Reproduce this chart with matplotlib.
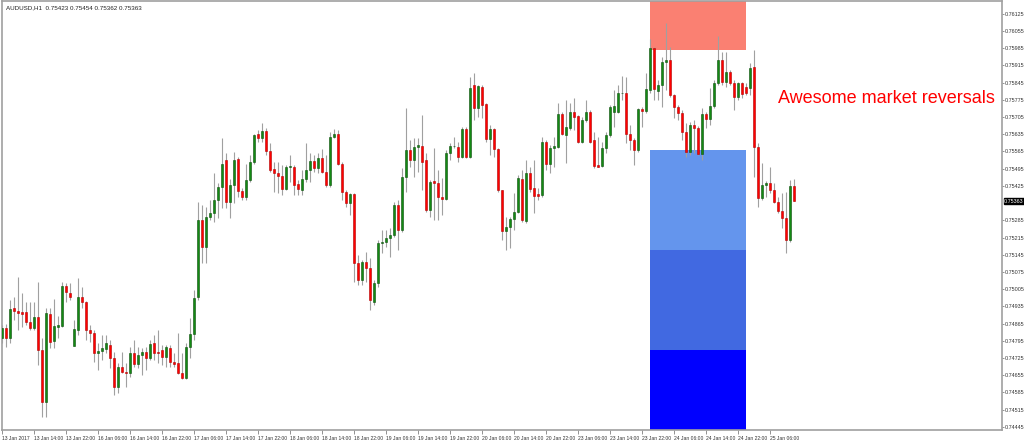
import matplotlib
matplotlib.use('Agg')
import matplotlib.pyplot as plt
from matplotlib.patches import Rectangle
import numpy as np

plt.rcParams['font.family'] = ['Liberation Sans', 'DejaVu Sans']

# AUDUSD H1, bar 0 = 13 Jan 2017 06:00 ... bar 198 = 25 Jan 12:00
opens = [0.74805, 0.74845, 0.74805, 0.74927, 0.74917, 0.74913, 0.74913, 0.74872, 0.74845, 0.74893,
         0.74757, 0.74547, 0.74904, 0.74795, 0.74852, 0.74855, 0.75018, 0.74990, 0.74775, 0.74838,
         0.74974, 0.74954, 0.74838, 0.74828, 0.74746, 0.74754, 0.74760, 0.74777, 0.74723, 0.74608,
         0.74689, 0.74669, 0.74665, 0.74744, 0.74700, 0.74737, 0.74750, 0.74723, 0.74784, 0.74750,
         0.74757, 0.74730, 0.74764, 0.74710, 0.74703, 0.74662, 0.74642, 0.74768, 0.74822, 0.74971,
         0.75286, 0.75177, 0.75299, 0.75313, 0.75367, 0.75419, 0.75530, 0.75360, 0.75428, 0.75533,
         0.75405, 0.75378, 0.75449, 0.75523, 0.75638, 0.75618, 0.75649, 0.75568, 0.75492, 0.75478,
         0.75465, 0.75411, 0.75503, 0.75503, 0.75432, 0.75408, 0.75455, 0.75489, 0.75527, 0.75496,
         0.75537, 0.75483, 0.75428, 0.75622, 0.75638, 0.75516, 0.75401, 0.75354, 0.75390, 0.75110,
         0.75042, 0.75116, 0.75089, 0.74954, 0.75029, 0.75191, 0.75198, 0.75212, 0.75225, 0.75347,
         0.75245, 0.75462, 0.75571, 0.75530, 0.75582, 0.75587, 0.75530, 0.75327, 0.75446, 0.75438,
         0.75378, 0.75370, 0.75557, 0.75587, 0.75584, 0.75541, 0.75655, 0.75544, 0.75835, 0.75740,
         0.75829, 0.75758, 0.75614, 0.75656, 0.75574, 0.75408, 0.75243, 0.75256, 0.75289, 0.75320,
         0.75452, 0.75283, 0.75479, 0.75415, 0.75392, 0.75388, 0.75605, 0.75514, 0.75578, 0.75584,
         0.75717, 0.75632, 0.75659, 0.75727, 0.75709, 0.75605, 0.75693, 0.75727, 0.75612, 0.75510,
         0.75506, 0.75578, 0.75632, 0.75727, 0.75727, 0.75801, 0.75801, 0.75636, 0.75612, 0.75571,
         0.75736, 0.75731, 0.75815, 0.75984, 0.75812, 0.75835, 0.75930, 0.75937, 0.75795, 0.75747,
         0.75723, 0.75645, 0.75564, 0.75673, 0.75659, 0.75555, 0.75717, 0.75696, 0.75750, 0.75842,
         0.75937, 0.75849, 0.75889, 0.75842, 0.75788, 0.75842, 0.75828, 0.75822, 0.75910, 0.75585,
         0.75374, 0.75428, 0.75438, 0.75408, 0.75361, 0.75324, 0.75293, 0.75205, 0.75423]
highs = [0.74859, 0.74863, 0.74961, 0.74974, 0.75055, 0.74988, 0.74954, 0.74954, 0.74954, 0.75035,
         0.74805, 0.74927, 0.74927, 0.74965, 0.74897, 0.75035, 0.75028, 0.75028, 0.74879, 0.75049,
         0.75015, 0.74958, 0.74859, 0.74838, 0.74784, 0.74818, 0.74818, 0.74798, 0.74750, 0.74703,
         0.74750, 0.74703, 0.74771, 0.74798, 0.74771, 0.74764, 0.74771, 0.74798, 0.74818, 0.74838,
         0.74777, 0.74777, 0.74777, 0.74744, 0.74825, 0.74744, 0.74784, 0.74886, 0.75001, 0.75360,
         0.75347, 0.75340, 0.75367, 0.75476, 0.75435, 0.75618, 0.75557, 0.75455, 0.75564, 0.75543,
         0.75415, 0.75516, 0.75550, 0.75638, 0.75652, 0.75682, 0.75659, 0.75598, 0.75523, 0.75523,
         0.75510, 0.75510, 0.75550, 0.75510, 0.75449, 0.75489, 0.75598, 0.75557, 0.75550, 0.75557,
         0.75577, 0.75550, 0.75645, 0.75655, 0.75652, 0.75523, 0.75408, 0.75394, 0.75394, 0.75143,
         0.75123, 0.75157, 0.75130, 0.75042, 0.75205, 0.75246, 0.75246, 0.75252, 0.75361, 0.75367,
         0.75496, 0.75740, 0.75612, 0.75618, 0.75618, 0.75713, 0.75557, 0.75449, 0.75578, 0.75490,
         0.75456, 0.75571, 0.75598, 0.75625, 0.75605, 0.75666, 0.75666, 0.75869, 0.75883, 0.75835,
         0.75835, 0.75761, 0.75673, 0.75659, 0.75578, 0.75408, 0.75300, 0.75300, 0.75395, 0.75469,
         0.75490, 0.75530, 0.75503, 0.75530, 0.75415, 0.75625, 0.75612, 0.75591, 0.75622, 0.75761,
         0.75727, 0.75774, 0.75761, 0.75781, 0.75713, 0.75706, 0.75774, 0.75734, 0.75645, 0.75625,
         0.75605, 0.75645, 0.75754, 0.75815, 0.75835, 0.75872, 0.75869, 0.75673, 0.75618, 0.75740,
         0.75747, 0.75883, 0.76021, 0.75991, 0.75856, 0.75951, 0.76086, 0.75991, 0.75799, 0.75754,
         0.75734, 0.75679, 0.75683, 0.75693, 0.75669, 0.75740, 0.75727, 0.75822, 0.75856, 0.76035,
         0.75971, 0.75971, 0.75896, 0.75856, 0.75849, 0.75849, 0.75842, 0.75923, 0.75978, 0.75598,
         0.75517, 0.75445, 0.75503, 0.75435, 0.75381, 0.75394, 0.75401, 0.75449, 0.75454]
lows = [0.74785, 0.74771, 0.74784, 0.74879, 0.74838, 0.74852, 0.74859, 0.74838, 0.74838, 0.74696,
        0.74486, 0.74486, 0.74764, 0.74764, 0.74805, 0.74852, 0.74954, 0.74961, 0.74773, 0.74818,
        0.74927, 0.74798, 0.74791, 0.74710, 0.74676, 0.74716, 0.74744, 0.74683, 0.74574, 0.74581,
        0.74662, 0.74608, 0.74649, 0.74689, 0.74683, 0.74655, 0.74676, 0.74716, 0.74716, 0.74703,
        0.74696, 0.74689, 0.74689, 0.74689, 0.74660, 0.74638, 0.74640, 0.74723, 0.74798, 0.74960,
        0.75110, 0.75110, 0.75286, 0.75279, 0.75293, 0.75333, 0.75333, 0.75293, 0.75354, 0.75381,
        0.75367, 0.75367, 0.75442, 0.75516, 0.75604, 0.75604, 0.75550, 0.75483, 0.75401, 0.75394,
        0.75387, 0.75408, 0.75442, 0.75387, 0.75387, 0.75387, 0.75442, 0.75442, 0.75483, 0.75476,
        0.75476, 0.75421, 0.75421, 0.75618, 0.75510, 0.75367, 0.75340, 0.75306, 0.75035, 0.75021,
        0.75021, 0.75035, 0.74920, 0.74940, 0.75015, 0.75150, 0.75178, 0.75137, 0.75218, 0.75164,
        0.75239, 0.75401, 0.75503, 0.75462, 0.75483, 0.75408, 0.75320, 0.75300, 0.75286, 0.75286,
        0.75306, 0.75367, 0.75530, 0.75578, 0.75523, 0.75537, 0.75537, 0.75537, 0.75693, 0.75706,
        0.75700, 0.75605, 0.75550, 0.75544, 0.75401, 0.75205, 0.75164, 0.75171, 0.75245, 0.75313,
        0.75279, 0.75276, 0.75401, 0.75313, 0.75367, 0.75381, 0.75490, 0.75476, 0.75503, 0.75578,
        0.75632, 0.75517, 0.75652, 0.75652, 0.75598, 0.75598, 0.75686, 0.75598, 0.75496, 0.75500,
        0.75503, 0.75557, 0.75625, 0.75666, 0.75720, 0.75774, 0.75598, 0.75571, 0.75510, 0.75564,
        0.75666, 0.75720, 0.75801, 0.75774, 0.75774, 0.75747, 0.75815, 0.75788, 0.75700, 0.75693,
        0.75612, 0.75544, 0.75551, 0.75557, 0.75551, 0.75530, 0.75659, 0.75673, 0.75740, 0.75835,
        0.75835, 0.75828, 0.75835, 0.75733, 0.75774, 0.75781, 0.75795, 0.75795, 0.75463, 0.75340,
        0.75367, 0.75381, 0.75395, 0.75354, 0.75313, 0.75252, 0.75150, 0.75198, 0.75362]
closes = [0.74845, 0.74805, 0.74923, 0.74917, 0.74906, 0.74904, 0.74872, 0.74845, 0.74893, 0.74757,
          0.74547, 0.74906, 0.74791, 0.74855, 0.74859, 0.75018, 0.74994, 0.74971, 0.74841, 0.74974,
          0.74954, 0.74838, 0.74828, 0.74746, 0.74754, 0.74764, 0.74787, 0.74723, 0.74608, 0.74689,
          0.74669, 0.74665, 0.74744, 0.74700, 0.74737, 0.74750, 0.74723, 0.74782, 0.74744, 0.74744,
          0.74730, 0.74768, 0.74710, 0.74700, 0.74662, 0.74642, 0.74768, 0.74822, 0.74970, 0.75286,
          0.75177, 0.75299, 0.75313, 0.75367, 0.75419, 0.75516, 0.75360, 0.75428, 0.75530, 0.75405,
          0.75378, 0.75449, 0.75523, 0.75631, 0.75618, 0.75649, 0.75568, 0.75489, 0.75478, 0.75465,
          0.75411, 0.75503, 0.75506, 0.75428, 0.75411, 0.75455, 0.75489, 0.75527, 0.75496, 0.75537,
          0.75483, 0.75428, 0.75622, 0.75638, 0.75516, 0.75401, 0.75354, 0.75390, 0.75110, 0.75042,
          0.75116, 0.75089, 0.74961, 0.75029, 0.75191, 0.75198, 0.75212, 0.75225, 0.75347, 0.75245,
          0.75462, 0.75571, 0.75530, 0.75582, 0.75591, 0.75523, 0.75327, 0.75442, 0.75438, 0.75378,
          0.75370, 0.75560, 0.75587, 0.75589, 0.75541, 0.75655, 0.75544, 0.75822, 0.75740, 0.75831,
          0.75754, 0.75614, 0.75656, 0.75574, 0.75408, 0.75243, 0.75256, 0.75289, 0.75320, 0.75456,
          0.75286, 0.75479, 0.75411, 0.75384, 0.75384, 0.75605, 0.75514, 0.75578, 0.75587, 0.75717,
          0.75636, 0.75663, 0.75727, 0.75706, 0.75605, 0.75693, 0.75727, 0.75605, 0.75506, 0.75503,
          0.75578, 0.75632, 0.75747, 0.75750, 0.75801, 0.75804, 0.75636, 0.75612, 0.75571, 0.75736,
          0.75731, 0.75818, 0.75984, 0.75818, 0.75835, 0.75930, 0.75937, 0.75795, 0.75747, 0.75723,
          0.75645, 0.75564, 0.75673, 0.75659, 0.75555, 0.75717, 0.75696, 0.75750, 0.75842, 0.75937,
          0.75849, 0.75889, 0.75842, 0.75788, 0.75842, 0.75799, 0.75804, 0.75906, 0.75585, 0.75374,
          0.75428, 0.75438, 0.75408, 0.75361, 0.75324, 0.75293, 0.75205, 0.75424, 0.75363]

x_labels = ['13 Jan 2017', '13 Jan 14:00', '13 Jan 22:00', '16 Jan 06:00', '16 Jan 14:00',
            '16 Jan 22:00', '17 Jan 06:00', '17 Jan 14:00', '17 Jan 22:00', '18 Jan 06:00',
            '18 Jan 14:00', '18 Jan 22:00', '19 Jan 06:00', '19 Jan 14:00', '19 Jan 22:00',
            '20 Jan 06:00', '20 Jan 14:00', '20 Jan 22:00', '23 Jan 06:00', '23 Jan 14:00',
            '23 Jan 22:00', '24 Jan 06:00', '24 Jan 14:00', '24 Jan 22:00', '25 Jan 06:00']
y_ticks = [0.76125, 0.76055, 0.75985, 0.75915, 0.75845, 0.75775, 0.75705, 0.75635, 0.75565,
           0.75495, 0.75425, 0.75285, 0.75215, 0.75145, 0.75075, 0.75005, 0.74935, 0.74865,
           0.74795, 0.74725, 0.74655, 0.74585, 0.74515, 0.74445]
last_price = 0.75363

# reversal zones: (low, high) price bands over the 24 Jan session
zone_lows = [0.75977, 0.75164, 0.74757, 0.74300]
zone_highs = [0.76300, 0.75571, 0.75164, 0.74757]
zone_colors = ['#fa8072', '#6495ed', '#4169e1', '#0000ff']
zone_start, zone_end = 162, 186

small = ['Liberation Sans Narrow', 'Liberation Sans', 'DejaVu Sans']

o = np.array(opens)
h = np.array(highs)
l = np.array(lows)
c = np.array(closes)
x = np.arange(len(o))
up = c >= o

fig = plt.figure(figsize=(10.24, 4.4), dpi=100)
ax = fig.add_axes([1.5 / 1024, 10 / 440, 1000.5 / 1024, 429 / 440])

for lo, hi, col in zip(zone_lows, zone_highs, zone_colors):
    ax.add_patch(Rectangle((zone_start, lo), zone_end - zone_start, hi - lo,
                           facecolor=col, edgecolor='none', zorder=1))

ax.vlines(x, l, h, color='#a0a0a0', lw=0.8, zorder=2)
body_lo = np.minimum(o, c)
body_h = np.maximum(np.abs(c - o), 0.00002)
ax.bar(x[up], body_h[up], bottom=body_lo[up], width=0.72, color='#138a13',
       edgecolor='#0b4d0b', lw=0.4, zorder=3)
ax.bar(x[~up], body_h[~up], bottom=body_lo[~up], width=0.72, color='#ff0000',
       edgecolor='#b00000', lw=0.4, zorder=3)

ax.set_xlim(-0.125, 250)
ax.set_ylim(0.74432, 0.76177)

ax.yaxis.tick_right()
ax.set_yticks(y_ticks)
ax.set_yticklabels(['%.5f' % v for v in y_ticks], fontsize=3.9, color='#333333', family=small)
ax.set_xticks(np.arange(0, 8 * len(x_labels), 8))
ax.set_xticklabels(x_labels, fontsize=3.6, ha='left', color='#333333', family=small)
ax.tick_params(axis='y', length=1.5, width=0.6, color='#808080', pad=0.5)
ax.tick_params(axis='x', length=3, width=0.6, color='#808080', pad=1)
for s in ax.spines.values():
    s.set_color('#a0a0a0')
    s.set_linewidth(1.2)

ax.text(1.0022, last_price, '%.5f' % last_price, transform=ax.get_yaxis_transform(),
        ha='left', va='center', fontsize=3.9, color='white', family=small,
        bbox=dict(facecolor='black', edgecolor='black', pad=0.4))

ax.text(0.004, 0.99, 'AUDUSD,H1  0.75423 0.75454 0.75362 0.75363', transform=ax.transAxes,
        ha='left', va='top', fontsize=4.5, color='#222222', family=small)
ax.text(194, 0.75782, 'Awesome market reversals', ha='left', va='center',
        fontsize=13, color='#ff0000', zorder=4)

fig.savefig('out.png', dpi=100)
